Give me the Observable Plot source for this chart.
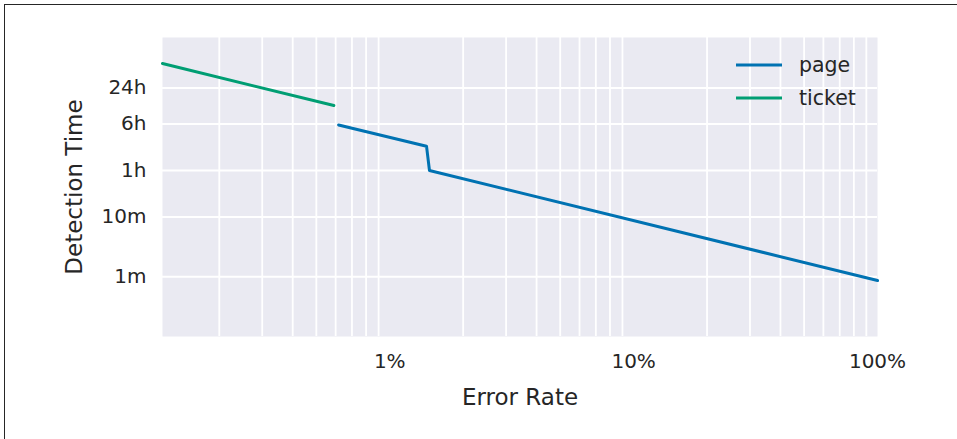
<!DOCTYPE html>
<html>
<head>
<meta charset="utf-8">
<script src="https://cdn.jsdelivr.net/npm/d3@7"></script>
<script src="https://cdn.jsdelivr.net/npm/@observablehq/plot@0.6"></script>
<style>
  html, body { margin: 0; padding: 0; background: #fff; overflow: hidden; }
  #wrap { position: relative; width: 957px; height: 439px; font-family: "DejaVu Sans", sans-serif; }
  #border { position: absolute; left: 3.5px; top: 4px; width: 2000px; height: 2000px;
            border: 1.6px solid #262626; pointer-events: none; }
  #legend { position: absolute; left: 736px; top: 49px; color: #262626; font-size: 20.5px; }
  .row { display: flex; align-items: center; height: 32.4px; }
  .row svg { width: 46px; height: 6px; margin-right: 17px; }
</style>
</head>
<body>
<div id="wrap">
  <div id="chart"></div>
  <div id="legend"></div>
  <div id="border"></div>
</div>
<script>
// Series (x = error rate as a fraction, y = detection time in minutes)
const seriesNames = ["page", "ticket"];
const seriesColors = ["#0072B2", "#009E73"];

const ticketErrorRate = [0.00117, 0.0059];
const ticketMinutes   = [3690, 735];

const pageErrorRate = [0.00617, 0.01415, 0.01455, 1.0];
const pageMinutes   = [347, 153, 60, 0.864];

// Axes
const xTicks = [0.01, 0.1, 1];
const xTickLabels = ["1%", "10%", "100%"];
const xMinorGrid = [0.002, 0.003, 0.004, 0.005, 0.006, 0.007, 0.008, 0.009,
                    0.02, 0.03, 0.04, 0.05, 0.06, 0.07, 0.08, 0.09,
                    0.2, 0.3, 0.4, 0.5, 0.6, 0.7, 0.8, 0.9];
const xDomain = [0.00117, 1];

const yTicks = [1, 10, 60, 360, 1440];
const yTickLabels = ["1m", "10m", "1h", "6h", "24h"];
const yDomain = [0.1, 10080];

const xLabel = "Error Rate";
const yLabel = "Detection Time";

const ticketData = ticketErrorRate.map((x, i) => ({x, y: ticketMinutes[i]}));
const pageData = pageErrorRate.map((x, i) => ({x, y: pageMinutes[i]}));
const yTickData = yTicks.map((y, i) => ({y, label: yTickLabels[i]}));

const fmt = (ticks, labels) => d => labels[ticks.findIndex(t => Math.abs(t - d) / t < 1e-6)];

const chart = Plot.plot({
  width: 957,
  height: 439,
  marginLeft: 162,
  marginRight: 80,
  marginTop: 37,
  marginBottom: 103,
  style: {fontFamily: "DejaVu Sans", fontSize: "20px", color: "#262626", background: "transparent", overflow: "visible"},
  x: {type: "log", domain: xDomain, ticks: xTicks, tickFormat: fmt(xTicks, xTickLabels),
      tickSize: 0, tickPadding: 17, label: null},
  y: {type: "log", domain: yDomain, axis: null},
  marks: [
    Plot.frame({fill: "#EAEAF2", stroke: null}),
    Plot.ruleX(xMinorGrid, {stroke: "white", strokeWidth: 1.8}),
    Plot.ruleY(yTicks, {stroke: "white", strokeWidth: 1.8}),
    Plot.line(ticketData, {x: "x", y: "y", stroke: seriesColors[1], strokeWidth: 3}),
    Plot.line(pageData, {x: "x", y: "y", stroke: seriesColors[0], strokeWidth: 3}),
    Plot.text(yTickData, {y: "y", text: "label", frameAnchor: "left", textAnchor: "end",
                          lineAnchor: "middle", dx: -16, fontSize: 20, fill: "#262626"}),
    Plot.text([xLabel], {text: d => d, frameAnchor: "bottom", lineAnchor: "top", dy: 52.5,
                         fontSize: 23, fill: "#262626"}),
    Plot.text([yLabel], {text: d => d, frameAnchor: "left", rotate: -90, lineAnchor: "middle",
                         textAnchor: "middle", dx: -88, fontSize: 23, fill: "#262626"})
  ]
});
document.getElementById("chart").appendChild(chart);

// Legend
const legend = document.getElementById("legend");
seriesNames.forEach((name, i) => {
  const row = document.createElement("div");
  row.className = "row";
  row.innerHTML = `<svg viewBox="0 0 46 6"><line x1="0" y1="3" x2="46" y2="3" stroke="${seriesColors[i]}" stroke-width="3"/></svg><span>${name}</span>`;
  legend.appendChild(row);
});
</script>
</body>
</html>
